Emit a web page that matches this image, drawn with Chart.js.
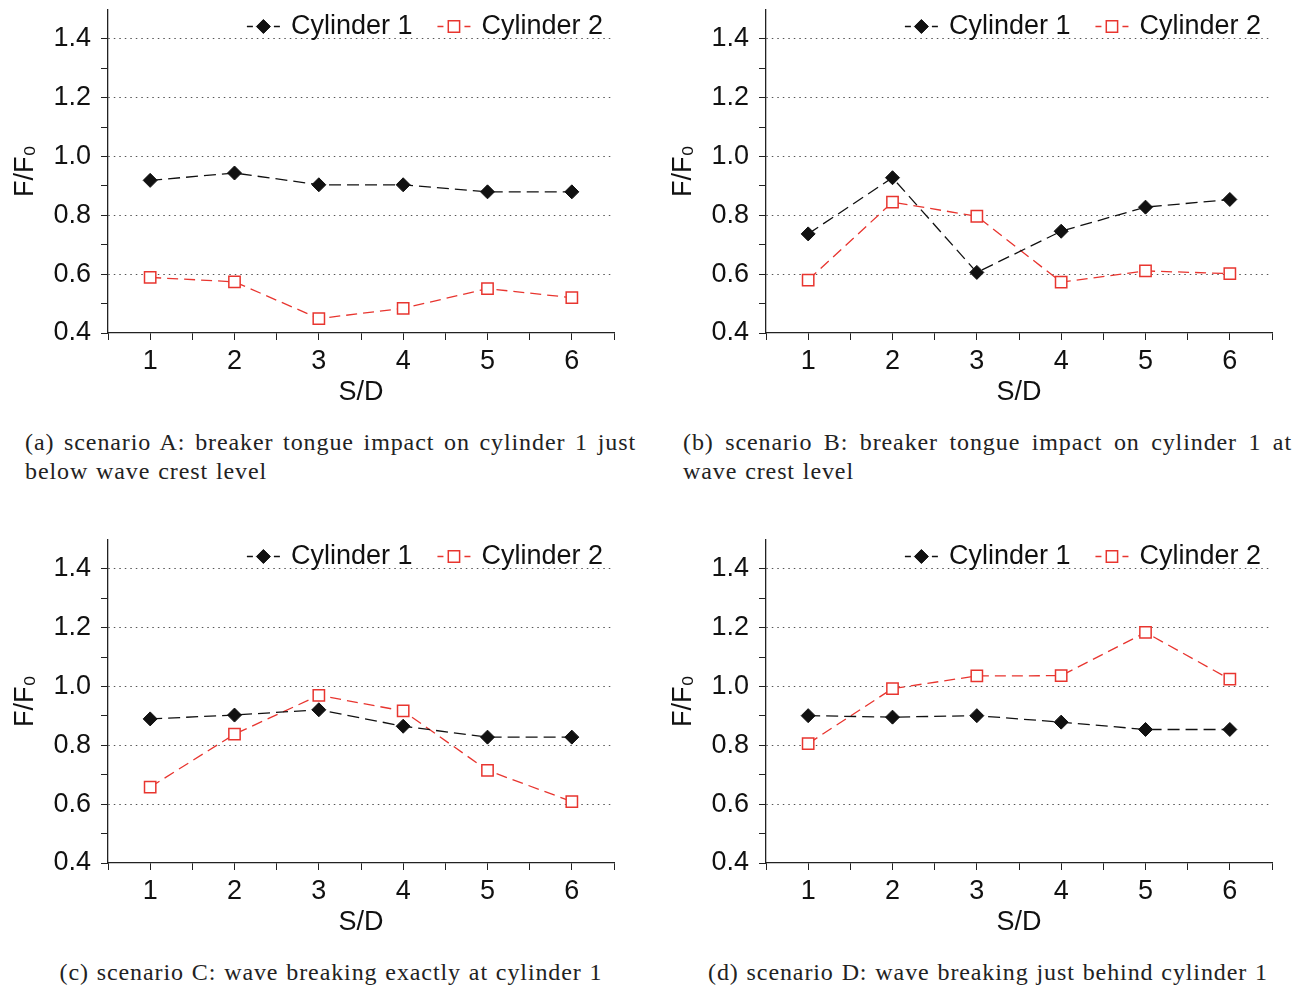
<!DOCTYPE html>
<html>
<head>
<meta charset="utf-8">
<title>F/F0 vs S/D</title>
<script src="https://cdn.jsdelivr.net/npm/chart.js@4.4.1/dist/chart.umd.min.js"></script>
<style>
  body { margin: 0; background: #fff; width: 1314px; height: 990px; position: relative; overflow: hidden; }
  .panel { position: absolute; width: 640px; height: 420px; }
  .caption { position: absolute; font-family: "Liberation Serif", serif; font-size: 24px; letter-spacing: 0.9px; word-spacing: 1px; color: #222; line-height: 29px; white-space: nowrap; }
  .just { text-align: justify; text-align-last: justify; }
</style>
</head>
<body>
<div class="panel" style="left:0;top:0"><canvas id="chartA" width="640" height="420"></canvas></div>
<div class="panel" style="left:658px;top:0"><canvas id="chartB" width="640" height="420"></canvas></div>
<div class="panel" style="left:0;top:530px"><canvas id="chartC" width="640" height="420"></canvas></div>
<div class="panel" style="left:658px;top:530px"><canvas id="chartD" width="640" height="420"></canvas></div>

<div class="caption" style="left:25px;top:428px;width:611px">
  <div class="just">(a) scenario A: breaker tongue impact on cylinder 1 just</div>
  <div>below wave crest level</div>
</div>
<div class="caption" style="left:683px;top:428px;width:609px">
  <div class="just">(b) scenario B: breaker tongue impact on cylinder 1 at</div>
  <div>wave crest level</div>
</div>
<div class="caption" style="left:0;top:958px;width:662px;text-align:center">(c) scenario C: wave breaking exactly at cylinder 1</div>
<div class="caption" style="left:658px;top:958px;width:660px;text-align:center">(d) scenario D: wave breaking just behind cylinder 1</div>

<script>
  // S/D positions
  const spacing = [1, 2, 3, 4, 5, 6];

  // F/F0
  const cyl1A = [0.919, 0.944, 0.904, 0.904, 0.880, 0.880];
  const cyl2A = [0.589, 0.574, 0.449, 0.484, 0.551, 0.520];

  const cyl1B = [0.737, 0.928, 0.606, 0.746, 0.828, 0.854];
  const cyl2B = [0.580, 0.845, 0.797, 0.573, 0.611, 0.602];

  const cyl1C = [0.890, 0.903, 0.921, 0.865, 0.828, 0.828];
  const cyl2C = [0.658, 0.838, 0.970, 0.917, 0.715, 0.609];

  const cyl1D = [0.901, 0.896, 0.901, 0.879, 0.854, 0.854];
  const cyl2D = [0.806, 0.993, 1.036, 1.037, 1.184, 1.025];

  const seriesNames = ['Cylinder 1', 'Cylinder 2'];

  const sansFont = '"Liberation Sans", Arial, sans-serif';
  const FONT_SIZE = 27;
  const RED = '#e8352f';
  const INK = '#111';

  const toPoints = (ys) => spacing.map((x, i) => ({ x: x, y: ys[i] }));

  // legend drawn inside the plot, top right: "- marker - label"
  const insideLegend = {
    id: 'insideLegend',
    afterDatasetsDraw(chart) {
      const { ctx, chartArea } = chart;
      ctx.save();
      ctx.font = FONT_SIZE + 'px ' + sansFont;
      ctx.textBaseline = 'middle';
      const y = chartArea.top + 17;
      let x = chartArea.right - 11;
      const items = chart.data.datasets.slice().reverse();
      items.forEach((ds) => {
        const w = ctx.measureText(ds.label).width;
        x -= w;
        ctx.fillStyle = INK;
        ctx.fillText(ds.label, x, y);
        x -= 11;
        const x1 = x - 33;
        const cx = (x1 + x) / 2;
        ctx.strokeStyle = ds.borderColor;
        ctx.lineWidth = 1.3;
        ctx.beginPath();
        ctx.moveTo(x1, y); ctx.lineTo(x1 + 6, y);
        ctx.moveTo(x - 6, y); ctx.lineTo(x, y);
        ctx.stroke();
        ctx.fillStyle = ds.pointBackgroundColor;
        ctx.strokeStyle = ds.pointBorderColor;
        ctx.lineWidth = ds.pointBorderWidth;
        ctx.beginPath();
        if (ds.pointStyle === 'rectRot') {
          const r = ds.pointRadius;
          ctx.moveTo(cx, y - r); ctx.lineTo(cx + r, y); ctx.lineTo(cx, y + r); ctx.lineTo(cx - r, y);
          ctx.closePath();
        } else {
          const h = ds.pointRadius * Math.SQRT1_2;
          ctx.rect(cx - h, y - h, 2 * h, 2 * h);
        }
        ctx.fill();
        ctx.stroke();
        x = x1 - 25;
      });
      ctx.restore();
    }
  };

  const isEvenTenth = (v) => Math.round(v * 10) % 2 === 0;

  const makeChart = (id, c1, c2) => {
    new Chart(document.getElementById(id), {
      type: 'line',
      data: {
        datasets: [
          {
            label: seriesNames[0],
            data: toPoints(c1),
            borderColor: INK,
            borderWidth: 1.3,
            borderDash: [12, 6],
            pointStyle: 'rectRot',
            pointRadius: 7,
            pointBackgroundColor: INK,
            pointBorderColor: INK,
            pointBorderWidth: 1,
            tension: 0,
          },
          {
            label: seriesNames[1],
            data: toPoints(c2),
            borderColor: RED,
            borderWidth: 1.3,
            borderDash: [11, 6],
            pointStyle: 'rect',
            pointRadius: 8,
            pointBackgroundColor: '#fff',
            pointBorderColor: RED,
            pointBorderWidth: 1.5,
            tension: 0,
          },
        ],
      },
      options: {
        responsive: false,
        animation: false,
        layout: { padding: { top: 7, right: 26, left: 0, bottom: 0 } },
        plugins: { legend: { display: false }, tooltip: { enabled: false } },
        scales: {
          x: {
            type: 'linear',
            min: 0.5,
            max: 6.5,
            afterFit: (s) => { s.height = 87; s.paddingLeft = 0; s.paddingRight = 0; },
            ticks: {
              stepSize: 0.5,
              autoSkip: false,
              maxRotation: 0,
              padding: 5,
              color: INK,
              font: { family: sansFont, size: FONT_SIZE },
              callback: (v) => (Math.abs(v - Math.round(v)) < 1e-6 ? String(Math.round(v)) : ''),
            },
            grid: { drawOnChartArea: false, tickLength: 7, tickColor: '#222', tickWidth: 1 },
            border: { color: '#222', width: 1.3 },
            title: {
              display: true,
              text: 'S/D',
              color: INK,
              font: { family: sansFont, size: FONT_SIZE },
              padding: { top: 0, bottom: 11 },
            },
          },
          y: {
            min: 0.4,
            max: 1.5,
            afterFit: (s) => { s.width = 108; s.paddingTop = 0; s.paddingBottom = 0; },
            ticks: {
              stepSize: 0.1,
              autoSkip: false,
              padding: 10,
              color: INK,
              font: { family: sansFont, size: FONT_SIZE },
              callback: (v) => (isEvenTenth(v) ? v.toFixed(1) : ''),
            },
            grid: {
              tickLength: 7,
              tickWidth: 1,
              color: (ctx) => {
                const v = ctx.tick ? ctx.tick.value : 0;
                return isEvenTenth(v) && v > 0.45 ? '#555' : 'rgba(0,0,0,0)';
              },
              tickColor: (ctx) => (ctx.tick && ctx.tick.value > 1.45 ? 'rgba(0,0,0,0)' : '#222'),
            },
            border: { color: '#222', width: 1.3, dash: [1.5, 4] },
            title: {
              display: true,
              text: 'F/F₀',
              color: INK,
              font: { family: sansFont, size: FONT_SIZE },
              padding: { top: 9, bottom: 0 },
            },
          },
        },
      },
      plugins: [insideLegend],
    });
  };

  makeChart('chartA', cyl1A, cyl2A);
  makeChart('chartB', cyl1B, cyl2B);
  makeChart('chartC', cyl1C, cyl2C);
  makeChart('chartD', cyl1D, cyl2D);
</script>
</body>
</html>
